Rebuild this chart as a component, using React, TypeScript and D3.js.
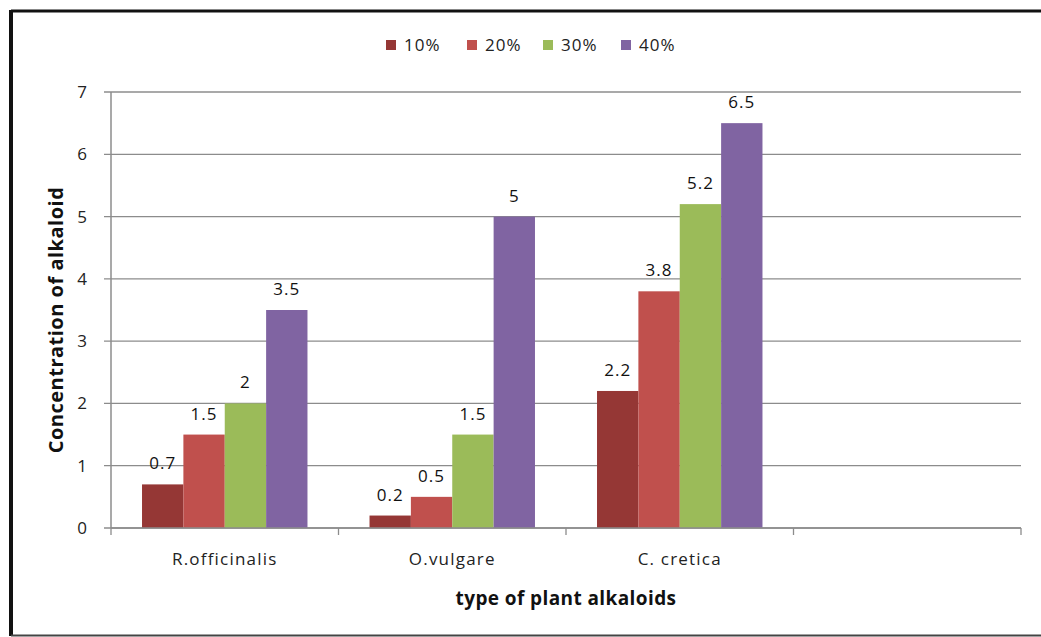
import React from "react";
import * as d3 from "d3";

const categories = ["R.officinalis", "O.vulgare", "C. cretica", ""];
const seriesNames = ["10%", "20%", "30%", "40%"];
const seriesColors = ["#953735", "#C0504D", "#9BBB59", "#8064A2"];
const values10 = [0.7, 0.2, 2.2];
const values20 = [1.5, 0.5, 3.8];
const values30 = [2, 1.5, 5.2];
const values40 = [3.5, 5, 6.5];
const yTicks = [0, 1, 2, 3, 4, 5, 6, 7];

const W = 1041;
const H = 637;
const margin = { left: 111, right: 20, top: 92, bottom: 109 };
const FONT = "'Open Sans', 'Noto Sans', sans-serif";

export default function App() {
  const series = [values10, values20, values30, values40];
  const x = d3
    .scaleBand<string>()
    .domain(categories.map((c, i) => String(i)))
    .range([margin.left, W - margin.right])
    .paddingInner(0)
    .paddingOuter(0);
  const y = d3.scaleLinear().domain([0, 7]).range([H - margin.bottom, margin.top]);

  const band = x.bandwidth();
  // gap between groups is 150% of one bar width, split across both sides
  const barW = band / (4 + 1.5);
  const groupOffset = (band - barW * 4) / 2;

  const legendX = [386, 467, 543, 621];
  const legendY = 45;

  return (
    <svg
      width={W}
      height={H}
      style={{ position: "absolute", left: 0, top: 0, background: "#fff" }}
      fontFamily={FONT}
    >
      <rect x={0} y={0} width={W} height={H} fill="#fff" />
      {/* outer frame */}
      <line x1={11} y1={11} x2={W} y2={11} stroke="#111" strokeWidth={3} />
      <line x1={11} y1={10} x2={11} y2={636} stroke="#111" strokeWidth={4} />
      <line x1={11} y1={635.5} x2={W} y2={635.5} stroke="#444" strokeWidth={2} />

      {/* gridlines */}
      {yTicks.map((t) => (
        <line
          key={"g" + t}
          x1={margin.left - 7}
          x2={W - margin.right}
          y1={y(t)}
          y2={y(t)}
          stroke="#8c8c8c"
          strokeWidth={1.3}
        />
      ))}
      {/* y axis */}
      <line x1={margin.left} x2={margin.left} y1={y(7)} y2={y(0)} stroke="#8c8c8c" strokeWidth={1.5} />
      {yTicks.map((t) => (
        <text
          key={"yt" + t}
          x={margin.left - 24}
          y={y(t)}
          dy="0.35em"
          textAnchor="end"
          fontSize={17}
          fill="#222"
        >
          {t}
        </text>
      ))}
      {/* x axis ticks */}
      {categories.map((c, i) => (
        <line
          key={"xt" + i}
          x1={x(String(i))!}
          x2={x(String(i))!}
          y1={y(0)}
          y2={y(0) + 7}
          stroke="#8c8c8c"
          strokeWidth={1.3}
        />
      ))}
      <line
        x1={W - margin.right}
        x2={W - margin.right}
        y1={y(0)}
        y2={y(0) + 7}
        stroke="#8c8c8c"
        strokeWidth={1.3}
      />

      {/* bars with value labels */}
      {series.map((vals, s) =>
        vals.map((v, i) => {
          const bx = x(String(i))! + groupOffset + s * barW;
          return (
            <g key={"b" + s + "-" + i}>
              <rect x={bx} y={y(v)} width={barW} height={y(0) - y(v)} fill={seriesColors[s]} />
              <text
                x={bx + barW / 2}
                y={y(v) - 15}
                textAnchor="middle"
                fontSize={17}
                letterSpacing={1}
                fill="#111"
              >
                {String(v)}
              </text>
            </g>
          );
        })
      )}
      {/* x axis line */}
      <line x1={margin.left} x2={W - margin.right} y1={y(0)} y2={y(0)} stroke="#8c8c8c" strokeWidth={1.5} />

      {/* category labels */}
      {categories.map((c, i) => (
        <text
          key={"cl" + i}
          x={x(String(i))! + band / 2}
          y={y(0) + 37}
          textAnchor="middle"
          fontSize={17}
          letterSpacing={1.2}
          fill="#222"
        >
          {c}
        </text>
      ))}

      {/* axis titles */}
      <text
        x={566}
        y={605}
        textAnchor="middle"
        fontSize={19}
        letterSpacing={0.4}
        fontWeight="bold"
        fill="#111"
      >
        type of plant alkaloids
      </text>
      <text
        transform={`translate(63, ${(y(0) + y(7)) / 2 + 10}) rotate(-90)`}
        textAnchor="middle"
        fontSize={20}
        letterSpacing={0.5}
        fontWeight="bold"
        fill="#111"
      >
        Concentration of alkaloid
      </text>

      {/* legend */}
      {seriesNames.map((n, s) => (
        <g key={"lg" + s}>
          <rect x={legendX[s]} y={legendY - 5} width={10} height={10} fill={seriesColors[s]} />
          <text x={legendX[s] + 18} y={legendY} dy="0.35em" fontSize={17} letterSpacing={1} fill="#222">
            {n}
          </text>
        </g>
      ))}
    </svg>
  );
}
